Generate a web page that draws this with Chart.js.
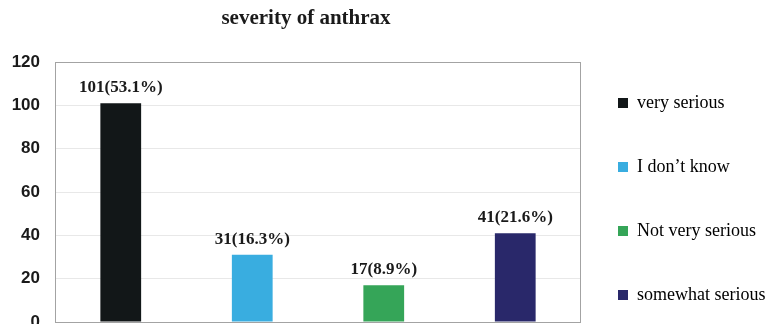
<!DOCTYPE html>
<html>
<head>
<meta charset="utf-8">
<script src="https://cdn.jsdelivr.net/npm/chart.js@4.4.1/dist/chart.umd.min.js"></script>
<style>
  html, body { margin: 0; padding: 0; background: #ffffff; }
  #wrap { width: 775px; height: 324px; }
</style>
</head>
<body>
<div id="wrap"><canvas id="c" width="775" height="324"></canvas></div>
<script>
const chartTitle = 'severity of anthrax';
const categories = ['very serious', 'I don\u2019t know', 'Not very serious', 'somewhat serious'];
const counts = [101, 31, 17, 41];
const percents = ['53.1', '16.3', '8.9', '21.6'];
const barColors = ['#121718', '#39ade0', '#35a558', '#29286a'];
const yMin = 0, yMax = 120, yStep = 20;

const plotBorder = {
  id: 'plotBorder',
  beforeDatasetsDraw(chart) {
    const a = chart.chartArea, ctx = chart.ctx;
    ctx.save();
    ctx.strokeStyle = '#a3a3a3';
    ctx.lineWidth = 1;
    ctx.strokeRect(Math.round(a.left) + 0.5, Math.round(a.top) + 0.5,
                   Math.round(a.right - a.left) - 1, Math.round(a.bottom - a.top));
    ctx.restore();
  }
};

const valueLabels = {
  id: 'valueLabels',
  afterDatasetsDraw(chart) {
    const ctx = chart.ctx;
    const meta = chart.getDatasetMeta(0);
    ctx.save();
    ctx.font = 'bold 17px "Liberation Serif", "Times New Roman", serif';
    ctx.fillStyle = '#1a1a1a';
    ctx.textAlign = 'center';
    ctx.textBaseline = 'alphabetic';
    meta.data.forEach((bar, i) => {
      ctx.fillText(counts[i] + '(' + percents[i] + '%)', bar.x, bar.y - 11);
    });
    ctx.restore();
  }
};

const titleDraw = {
  id: 'titleDraw',
  afterDraw(chart) {
    const ctx = chart.ctx, a = chart.chartArea;
    ctx.save();
    ctx.font = 'bold 21px "Liberation Serif", "Times New Roman", serif';
    ctx.fillStyle = '#1a1a1a';
    ctx.textAlign = 'center';
    ctx.textBaseline = 'middle';
    ctx.fillText(chartTitle, (a.left + a.right) / 2 - 12, 19);
    ctx.restore();
  }
};

const legendShift = {
  id: 'legendShift',
  afterLayout(chart) {
    const lg = chart.legend;
    if (!lg) return;
    const dx = -9;
    lg.left += dx; lg.right += dx;
    lg.top = chart.chartArea.top - 14;
    lg.bottom = lg.top + 600;
  }
};

new Chart(document.getElementById('c'), {
  type: 'bar',
  data: {
    labels: categories,
    datasets: [{
      data: counts,
      backgroundColor: barColors,
      borderWidth: 0,
      categoryPercentage: 1,
      barPercentage: 0.31
    }]
  },
  options: {
    responsive: false,
    animation: false,
    layout: { padding: { top: 62, bottom: 2, left: 0, right: 0 } },
    scales: {
      x: { display: false },
      y: {
        min: yMin, max: yMax,
        ticks: {
          stepSize: yStep,
          padding: 15,
          color: '#1a1a1a',
          font: { family: '"Liberation Sans", Arial, sans-serif', size: 17, weight: 'bold' }
        },
        grid: { color: '#e8e8e8', drawTicks: false },
        border: { display: false },
        afterFit(scale) {
          scale.width = 55;
          scale.paddingTop = 0;
          scale.paddingBottom = 0;
        }
      }
    },
    plugins: {
      title: { display: false },
      tooltip: { enabled: false },
      legend: {
        position: 'right',
        align: 'start',
        maxWidth: 194,
        labels: {
          boxWidth: 10,
          boxHeight: 10,
          padding: 46,
          color: '#1a1a1a',
          font: { family: '"Liberation Serif", "Times New Roman", serif', size: 18 },
          generateLabels() {
            return categories.map((c, i) => ({
              text: c, fillStyle: barColors[i], strokeStyle: barColors[i],
              lineWidth: 0, hidden: false, index: i
            }));
          }
        }
      }
    }
  },
  plugins: [plotBorder, valueLabels, titleDraw, legendShift]
});
</script>
</body>
</html>
